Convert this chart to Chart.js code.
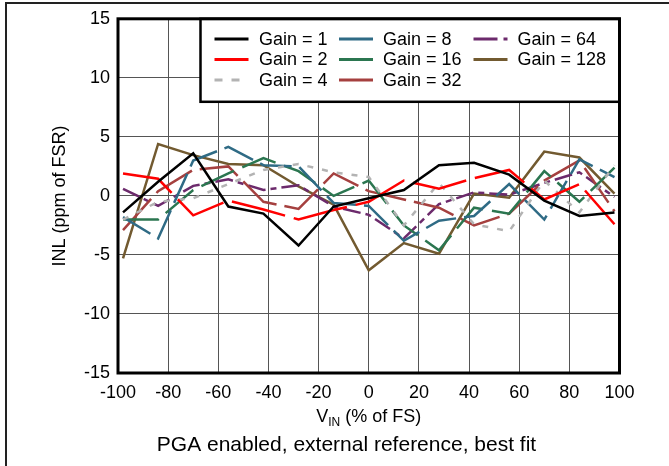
<!DOCTYPE html>
<html><head><meta charset="utf-8">
<script src="https://cdn.jsdelivr.net/npm/chart.js@4.4.1/dist/chart.umd.min.js"></script>
<style>html,body{margin:0;padding:0;background:#fff;} #wrap{position:relative;width:669px;height:466px;} canvas{display:block;}</style>
</head><body><div id="wrap"><canvas id="c" width="669" height="466"></canvas></div>
<script>
const FONT = "'Liberation Sans', Arial, Helvetica, sans-serif";

// ---- data ----
const vin = [-98, -84, -70, -56, -42, -28, -14, 0, 14, 28, 42, 56, 70, 84, 98];
const gain1   = [-1.4, 1.2, 3.6, -0.9, -1.5, -4.2, -0.9, -0.2, 0.5, 2.6, 2.8, 1.8, -0.4, -1.7, -1.4];
const gain2   = [1.9, 1.45, -1.65, -0.4, -1.15, -2.0, -1.2, -0.5, 1.3, 0.6, 1.5, 2.2, -0.3, 1.0, -2.4];
const gain4   = [-2.0, -0.5, -0.2, 1.0, 2.2, 2.7, 2.0, 1.6, -2.5, 1.1, -2.4, -3.0, 1.3, -1.4, 2.6];
const gain8   = [-1.8, -3.6, 3.0, 4.15, 2.6, 2.5, -0.6, -0.85, -3.8, -2.1, -1.7, 1.0, -2.0, 3.1, 1.6];
const gain16  = [-2.0, -2.0, 0.5, 1.9, 3.2, 2.1, 0.0, 1.3, -2.5, -4.6, -1.0, -1.5, 2.1, -0.5, 2.4];
const gain32  = [-2.9, 0.4, 2.2, 2.5, -0.5, -1.1, 1.9, 0.4, -0.3, -1.0, -2.5, -1.5, 1.3, 3.0, -1.3];
const gain64  = [0.6, -0.85, 0.85, 1.4, 0.5, 0.9, -0.9, -1.6, -3.6, -0.7, 0.3, 0.1, 1.1, 2.0, -0.1];
const gain128 = [-5.3, 4.4, 3.45, 2.7, 2.6, 0.8, -0.75, -6.3, -4.0, -4.9, 0.2, -0.15, 3.75, 3.25, 0.2];

const seriesNames = ['Gain = 1', 'Gain = 2', 'Gain = 4', 'Gain = 8', 'Gain = 16', 'Gain = 32', 'Gain = 64', 'Gain = 128'];
const seriesValues = [gain1, gain2, gain4, gain8, gain16, gain32, gain64, gain128];
const xTickValues = [-100, -80, -60, -40, -20, 0, 20, 40, 60, 80, 100];
const yTickValues = [-15, -10, -5, 0, 5, 10, 15];
const yTitle = 'INL (ppm of FSR)';
const xTitleMain = 'V', xTitleSub = 'IN', xTitleRest = ' (% of FS)';
const caption = 'PGA enabled, external reference, best fit';

// ---- styles ----
const colors = ['#000000', '#ff0000', '#b3b3b3', '#2f6b85', '#2b7650', '#a5403f', '#6c2a6c', '#725a30'];
const dashes = [[], [55, 9], [6, 9], [32, 8], [36, 9], [42, 8], [18, 5, 6, 5], []];
const legendDashes = [[], [], [8, 9], [], [], [], [24, 6, 6, 6], []];
const legendCols = [[0, 1, 2], [3, 4, 5], [6, 7]];
const legendColX = [{s: 214.5, e: 248.5, t: 259}, {s: 339, e: 373, t: 383}, {s: 473.5, e: 507.5, t: 517.5}];
const legendRowY = [39, 59.5, 80];

const datasets = seriesNames.map((n, i) => ({
  label: n,
  data: vin.map((x, k) => ({x: x, y: seriesValues[i][k]})),
  borderColor: colors[i],
  borderWidth: 2.5,
  borderDash: dashes[i],
  pointRadius: 0,
  tension: 0,
  fill: false
}));

const decor = {
  id: 'decor',
  beforeDraw(chart) {
    const ctx = chart.ctx;
    ctx.save();
    ctx.fillStyle = '#fff';
    ctx.fillRect(0, 0, chart.width, chart.height);
    ctx.strokeStyle = '#222';
    ctx.lineWidth = 2;
    ctx.beginPath();
    ctx.moveTo(6, chart.height); ctx.lineTo(6, 3); ctx.lineTo(chart.width, 3);
    ctx.stroke();
    ctx.restore();
  },
  afterDatasetsDraw(chart) {
    const ctx = chart.ctx, a = chart.chartArea;
    ctx.save();
    // legend box
    const bx = 200.5, by = a.top, bw = a.right - bx, bh = 83;
    ctx.fillStyle = '#fff';
    ctx.fillRect(bx, by, bw, bh);
    ctx.lineWidth = 2.5; ctx.strokeStyle = '#000';
    ctx.strokeRect(bx, by, bw, bh);
    ctx.font = '18px ' + FONT;
    ctx.textBaseline = 'middle';
    ctx.textAlign = 'left';
    legendCols.forEach((col, c) => {
      col.forEach((di, r) => {
        const y = legendRowY[r];
        const cx = legendColX[c];
        ctx.beginPath();
        ctx.setLineDash(legendDashes[di]);
        ctx.lineWidth = 3;
        ctx.strokeStyle = colors[di];
        ctx.moveTo(cx.s, y); ctx.lineTo(cx.e, y);
        ctx.stroke();
        ctx.setLineDash([]);
        ctx.fillStyle = '#000';
        ctx.fillText(seriesNames[di], cx.t, y + 1);
      });
    });
    // plot frame
    ctx.lineWidth = 3; ctx.strokeStyle = '#000';
    ctx.strokeRect(a.left, a.top, a.right - a.left, a.bottom - a.top);
    // x title with subscript
    const mid = (a.left + a.right) / 2;
    ctx.fillStyle = '#000';
    ctx.textBaseline = 'alphabetic';
    ctx.font = '18px ' + FONT;
    const w1 = ctx.measureText(xTitleMain).width;
    const w3 = ctx.measureText(xTitleRest).width;
    ctx.font = '12px ' + FONT;
    const w2 = ctx.measureText(xTitleSub).width;
    let x0 = mid - (w1 + w2 + w3) / 2;
    const base = 422;
    ctx.font = '18px ' + FONT;
    ctx.fillText(xTitleMain, x0, base);
    ctx.font = '12px ' + FONT;
    ctx.fillText(xTitleSub, x0 + w1, base + 4);
    ctx.font = '18px ' + FONT;
    ctx.fillText(xTitleRest, x0 + w1 + w2, base);
    // caption
    ctx.font = '21px ' + FONT;
    ctx.textAlign = 'center';
    ctx.fillText(caption, 346.5, 450.5);
    ctx.restore();
  }
};

new Chart(document.getElementById('c'), {
  type: 'line',
  data: {datasets},
  plugins: [decor],
  options: {
    responsive: false,
    animation: false,
    events: [],
    layout: {padding: {left: 0, top: 18, right: 49.5, bottom: 0}},
    plugins: {legend: {display: false}, tooltip: {enabled: false}, title: {display: false}},
    scales: {
      x: {
        type: 'linear', min: -100, max: 100,
        afterBuildTicks: s => { s.ticks = xTickValues.map(v => ({value: v})); },
        afterFit: s => { s.height = 93; },
        ticks: {font: {size: 18, family: FONT}, color: '#000', padding: 9, maxRotation: 0, autoSkip: false},
        grid: {color: '#555', lineWidth: 1, drawTicks: false},
        border: {display: false}
      },
      y: {
        type: 'linear', min: -15, max: 15,
        afterBuildTicks: s => { s.ticks = yTickValues.map(v => ({value: v})); },
        afterFit: s => { s.width = 118; },
        ticks: {font: {size: 18, family: FONT}, color: '#000', padding: 8, autoSkip: false},
        grid: {color: '#555', lineWidth: 1, drawTicks: false},
        border: {display: false},
        title: {display: true, text: yTitle, color: '#000', font: {size: 18, family: FONT}, padding: {top: 49, bottom: 0}}
      }
    }
  }
});
</script>
</body></html>
